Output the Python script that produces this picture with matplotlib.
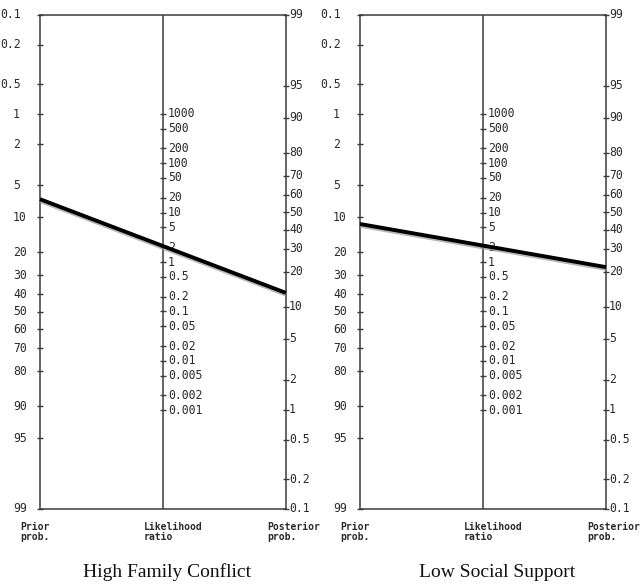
import numpy as np
import matplotlib
matplotlib.use('Agg')
import matplotlib.pyplot as plt
import matplotlib.patheffects as pe

# Fagan nomogram scales (percent / ratio)
prior_ticks = [0.1, 0.2, 0.5, 1, 2, 5, 10, 20, 30, 40, 50, 60, 70, 80, 90, 95, 99]
lr_ticks = [1000, 500, 200, 100, 50, 20, 10, 5, 2, 1, 0.5, 0.2, 0.1,
            0.05, 0.02, 0.01, 0.005, 0.002, 0.001]
post_ticks = [99, 95, 90, 80, 70, 60, 50, 40, 30, 20, 10, 5, 2, 1, 0.5, 0.2, 0.1]

panel_titles = ['High Family Conflict', 'Low Social Support']
prior_probs = [6.8, 11.5]          # percent
likelihood_ratios = [2.1, 2.15]

AXCOL = '#3c3c3c'
TXTCOL = '#2a2a2a'
MONO = 'DejaVu Sans Mono'


def logit(p):
    p = np.asarray(p, dtype=float) / 100.0
    return np.log(p / (1 - p))


# shift so that posterior 99 sits level with prior 0.1
C = float(logit(0.1) + logit(99))


def post_pos(p):
    return C - logit(p)


def lr_pos(lr):
    return (C - np.log(np.asarray(lr, dtype=float))) / 2


def px(n):
    # pixels -> points at 100 dpi
    return n * 0.72


def fmt(v):
    return '{:g}'.format(v)


def tick_column(ax, x, values, pos, off):
    ax.plot(np.full(len(pos), x), pos, ls='none', marker='_', ms=5, mew=1,
            color=AXCOL, clip_on=False)
    for v, y in zip(values, pos):
        o = off(v) if callable(off) else off
        ax.annotate(fmt(v), xy=(x, y), xytext=(px(o), 0),
                    textcoords='offset points', ha='left', va='center',
                    fontsize=8.3, family=MONO, color=TXTCOL)


def draw_nomogram(ax, prior, lr):
    ax.set_xlim(0, 2)
    ax.set_ylim(logit(99), logit(0.1))
    ax.set_xticks([])
    ax.set_yticks([])
    for s in ax.spines.values():
        s.set_color(AXCOL)
        s.set_linewidth(1.1)
    ax.axvline(1, color=AXCOL, lw=1.1)

    tick_column(ax, 0, prior_ticks, logit(prior_ticks),
                lambda v: -40 if v < 1 else -27)
    tick_column(ax, 1, lr_ticks, lr_pos(lr_ticks), 5)
    tick_column(ax, 2, post_ticks, post_pos(post_ticks), 3)

    # axis names under the bottom line
    ybot = logit(99)
    for x, name in [(0, 'Prior\nprob.'), (1, 'Likelihood\nratio'),
                    (2, 'Posterior\nprob.')]:
        off = -20 if x == 0 else -19
        ax.annotate(name, xy=(x, ybot), xytext=(px(off), px(-13)),
                    textcoords='offset points', ha='left', va='top',
                    fontsize=7, family=MONO, fontweight='bold',
                    color=TXTCOL, linespacing=0.95, annotation_clip=False)

    # the line through prior and likelihood ratio
    post = 100 / (1 + np.exp(-(logit(prior) + np.log(lr))))
    ax.plot([0, 2], [logit(prior), post_pos(post)], color='black', lw=2.8,
            solid_capstyle='butt', clip_on=False, zorder=5,
            path_effects=[pe.SimpleLineShadow(offset=(0, -1.3),
                                              shadow_color='#9a9a9a',
                                              alpha=0.7),
                          pe.Normal()])


fig = plt.figure(figsize=(6.4, 5.87), dpi=100)
lefts = [40, 360]
title_x = [167.5, 497]
for i in range(2):
    ax = fig.add_axes([lefts[i] / 640, 1 - 509 / 587, 246 / 640, 494 / 587])
    draw_nomogram(ax, prior_probs[i], likelihood_ratios[i])
    fig.text(title_x[i] / 640, 1 - 577 / 587, panel_titles[i],
             ha='center', va='baseline', fontsize=14,
             family='Liberation Serif', color='#111111')

fig.savefig('out.png', dpi=100, facecolor='white')
